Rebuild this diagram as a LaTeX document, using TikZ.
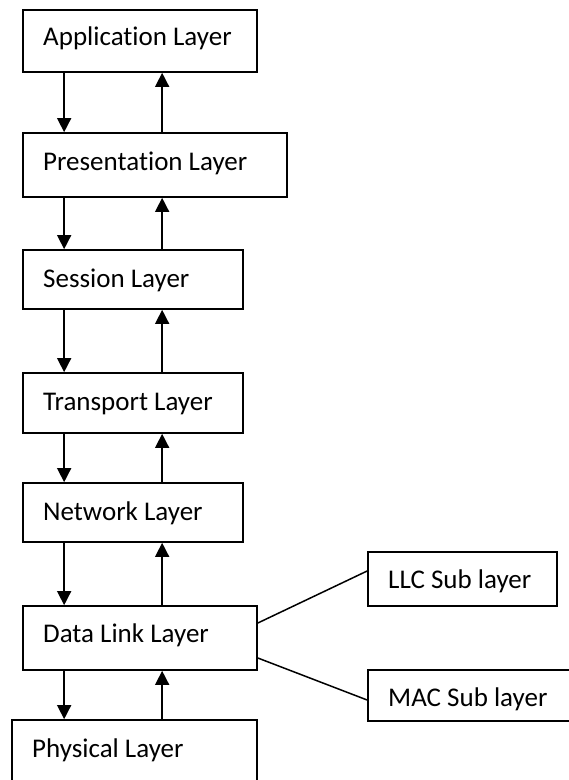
\documentclass[tikz,border=0pt]{standalone}
\usepackage{fontspec}
\setmainfont{Carlito}[Ligatures=NoCommon]
\usetikzlibrary{arrows.meta}
\begin{document}
\begin{tikzpicture}[x=1pt,y=-1pt,
  box/.style={draw=black,line width=1.7pt,rectangle,inner sep=0pt},
  lbl/.style={anchor=base west,inner sep=0pt,font=\fontsize{27}{32}\selectfont},
  arr/.style={line width=1.5pt,-{Triangle[width=14pt,length=14pt]}},
  link/.style={line width=1.5pt}]
\useasboundingbox (0,0) rectangle (569,780);
\clip (0,0) rectangle (569,780);
\fill[white] (0,0) rectangle (569,780);
% boxes
\node[box,minimum width=234pt,minimum height=62pt] (app) at (140,41) {};
\node[box,minimum width=264pt,minimum height=64pt] (pres) at (155,165) {};
\node[box,minimum width=220pt,minimum height=59pt] (sess) at (133,279.5) {};
\node[box,minimum width=220pt,minimum height=60pt] (trans) at (133,403) {};
\node[box,minimum width=220pt,minimum height=59pt] (net) at (133,512.5) {};
\node[box,minimum width=234pt,minimum height=64pt] (dl) at (140,638) {};
\node[box,minimum width=245pt,minimum height=80pt] (ph) at (134.5,760) {};
\node[box,minimum width=189pt,minimum height=54pt] (llc) at (462.5,579) {};
\node[box,minimum width=210pt,minimum height=51pt] (mac) at (473,695.5) {};
% labels
\node[lbl] (tapp) at (43,45) {Application Layer};
\node[lbl] (tpres) at (43,170) {Presentation Layer};
\node[lbl] (tsess) at (43,287) {Session Layer};
\node[lbl] (ttrans) at (43,410) {Transport Layer};
\node[lbl] (tnet) at (43,520) {Network Layer};
\node[lbl] (tdl) at (43,642) {Data Link Layer};
\node[lbl] (tph) at (32,757) {Physical Layer};
\node[lbl] (tllc) at (388,588) {LLC Sub layer};
\node[lbl] (tmac) at (388,706) {MAC Sub layer};
% arrows
\foreach \a/\b in {app/pres,pres/sess,sess/trans,trans/net,net/dl,dl/ph}{
  \draw[arr] ([xshift=42pt]\a.south west) -- ([xshift=42pt]\a.south west |- \b.north);
  \draw[arr] ([xshift=140pt]\a.south west |- \b.north) -- ([xshift=140pt]\a.south west);
}
% sub layer links
\draw[link] ([yshift=15pt]dl.east) -- ([yshift=8pt]llc.west);
\draw[link] ([yshift=-20pt]dl.east) -- ([yshift=-4.5pt]mac.west);
\end{tikzpicture}
\end{document}
